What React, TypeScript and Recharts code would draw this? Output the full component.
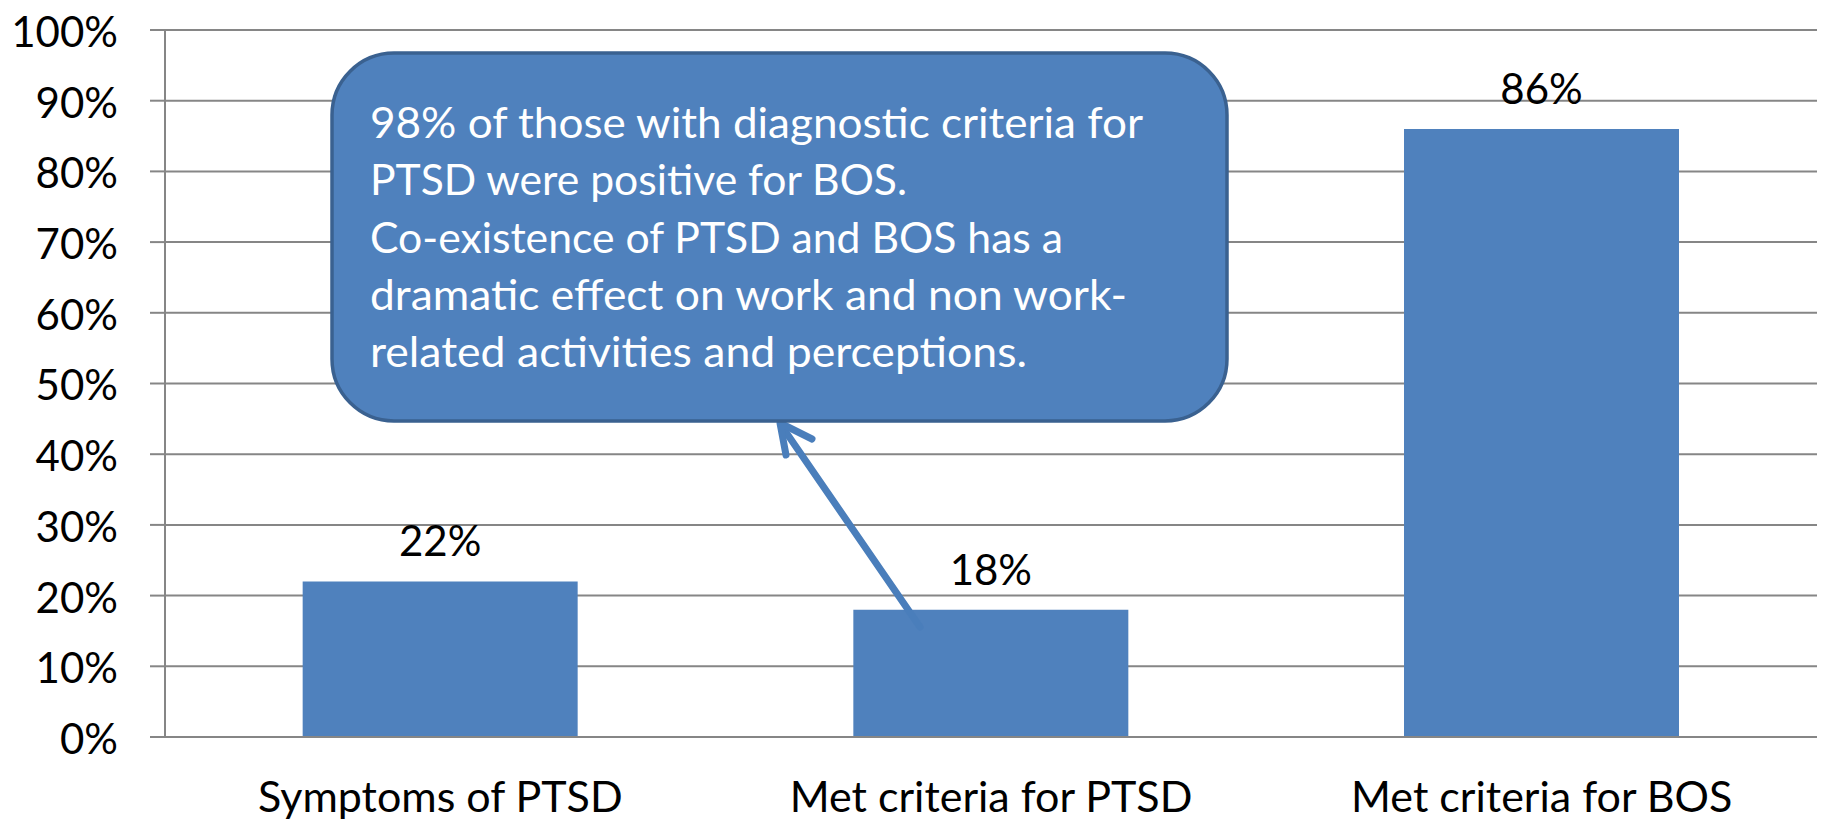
import React from "react";
import { BarChart, Bar, XAxis, YAxis, CartesianGrid, LabelList } from "recharts";

const categories = ["Symptoms of PTSD", "Met criteria for PTSD", "Met criteria for BOS"];
const percentValues = [22, 18, 86];
const yTicks = [0, 10, 20, 30, 40, 50, 60, 70, 80, 90, 100];
const boundaryTicks = [0, 1, 2, 3];
const noteLines = [
  "98% of those with diagnostic criteria for",
  "PTSD were positive for BOS.",
  "Co-existence of PTSD and BOS has a",
  "dramatic effect on work and non work-",
  "related activities and perceptions.",
];
// measured line widths in the reference callout
const noteWidths = [773, 537, 693, 757, 657];

const W = 1828;
const H = 821;
const FONT = "Lato, 'Open Sans', sans-serif";
const GRAY = "#868686";
const BLUE = "#4F81BD";

const data = categories.map((name, i) => ({ name, value: percentValues[i] }));

// callout + arrow, drawn on top of the chart
function Callout() {
  return (
    <svg
      width={W}
      height={H}
      style={{ position: "absolute", left: 0, top: 0, pointerEvents: "none" }}
    >
      <line x1={920} y1={627} x2={781} y2={425} stroke="#4A7EBB" strokeWidth={7} strokeLinecap="round" />
      <polyline
        points="812,439 780,423 786,455"
        fill="none"
        stroke="#4A7EBB"
        strokeWidth={7}
        strokeLinecap="round"
        strokeLinejoin="round"
      />
      <rect x={332} y={53} width={895} height={368} rx={62} ry={62} fill={BLUE} stroke="#3A6190" strokeWidth={3.5} />
      {noteLines.map((t, i) => (
        <text
          key={i}
          x={370}
          y={138 + i * 57.25}
          fill="#fff"
          fontFamily={FONT}
          fontSize={42}
          textLength={noteWidths[i]}
          lengthAdjust="spacingAndGlyphs"
        >
          {t}
        </text>
      ))}
    </svg>
  );
}

export default function App() {
  return (
    <div style={{ position: "absolute", left: 0, top: 0, width: W, height: H, background: "#fff" }}>
      <BarChart
        width={W}
        height={H}
        data={data}
        margin={{ top: 30, right: 11, bottom: 0, left: 0 }}
        barCategoryGap="25%"
      >
        <CartesianGrid vertical={false} stroke={GRAY} strokeWidth={2} />
        <XAxis
          xAxisId="bounds"
          type="number"
          domain={[0, 3]}
          ticks={boundaryTicks}
          tick={false}
          tickSize={14}
          height={0}
          axisLine={false}
          tickLine={{ stroke: GRAY, strokeWidth: 2 }}
        />
        <XAxis
          dataKey="name"
          height={84}
          tickSize={0}
          tickMargin={44}
          axisLine={{ stroke: GRAY, strokeWidth: 2 }}
          tickLine={false}
          tick={{ fill: "#000", fontSize: 43, fontFamily: FONT }}
        />
        <YAxis
          domain={[0, 100]}
          ticks={yTicks}
          width={165}
          tickSize={15}
          tickMargin={32}
          interval={0}
          tickFormatter={(v: number) => `${v}%`}
          axisLine={{ stroke: GRAY, strokeWidth: 2 }}
          tickLine={{ stroke: GRAY, strokeWidth: 2 }}
          tick={{ fill: "#000", fontSize: 42, fontFamily: FONT, dy: 2 }}
        />
        <Bar dataKey="value" fill={BLUE} isAnimationActive={false}>
          <LabelList
            dataKey="value"
            position="top"
            offset={25}
            formatter={(v: any) => `${v}%`}
            style={{ fill: "#000", fontSize: 42, fontFamily: FONT }}
          />
        </Bar>
      </BarChart>
      <Callout />
    </div>
  );
}
